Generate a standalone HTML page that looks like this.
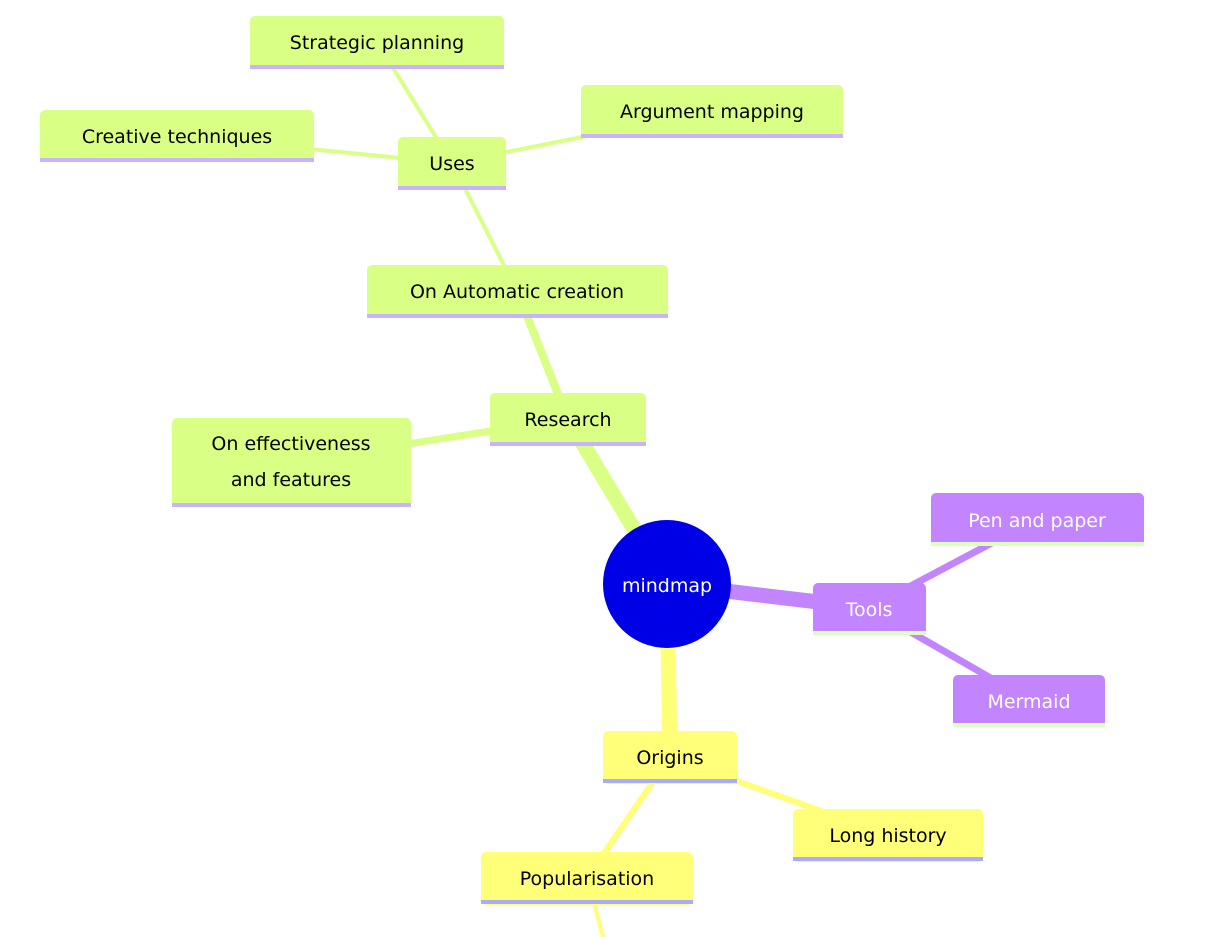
<!DOCTYPE html>
<html><head><meta charset="utf-8"><style>
html,body{margin:0;padding:0;background:#fff;width:1228px;height:937px;overflow:hidden}
text{font-family:"DejaVu Sans","Liberation Sans",sans-serif;font-size:19px}
</style></head><body>
<svg width="1228" height="937" viewBox="0 0 1228 937" xmlns="http://www.w3.org/2000/svg">
<g stroke-linecap="butt" fill="none">
<line x1="667" y1="584" x2="568" y2="419" stroke="#d9ff85" stroke-width="15"/>
<line x1="568" y1="419" x2="517" y2="291" stroke="#d9ff85" stroke-width="8"/>
<line x1="568" y1="419" x2="291" y2="462" stroke="#d9ff85" stroke-width="7"/>
<line x1="517" y1="291" x2="452" y2="163" stroke="#d9ff85" stroke-width="4"/>
<line x1="452" y1="163" x2="377" y2="42" stroke="#d9ff85" stroke-width="4"/>
<line x1="452" y1="163" x2="712" y2="111" stroke="#d9ff85" stroke-width="4"/>
<line x1="452" y1="163" x2="177" y2="136" stroke="#d9ff85" stroke-width="4"/>
<line x1="667" y1="584" x2="869" y2="608" stroke="#c385ff" stroke-width="15"/>
<line x1="869" y1="608" x2="1037" y2="519" stroke="#c385ff" stroke-width="7"/>
<line x1="869" y1="608" x2="1029" y2="700" stroke="#c385ff" stroke-width="7"/>
<line x1="667" y1="584" x2="670" y2="757" stroke="#ffff78" stroke-width="15"/>
<line x1="670" y1="757" x2="888" y2="835" stroke="#ffff78" stroke-width="6"/>
<line x1="670" y1="757" x2="587" y2="878" stroke="#ffff78" stroke-width="6"/>
<line x1="587" y1="878" x2="604" y2="940" stroke="#ffff78" stroke-width="4"/>
</g>
<g>
<rect x="250" y="16" width="254" height="53" rx="5" fill="#d9ff85"/><rect x="250" y="65" width="254" height="4" fill="#c9b3ff"/>
<text x="377" y="49" text-anchor="middle">Strategic planning</text>
<rect x="581" y="85" width="262" height="53" rx="5" fill="#d9ff85"/><rect x="581" y="134" width="262" height="4" fill="#c9b3ff"/>
<text x="712" y="118" text-anchor="middle">Argument mapping</text>
<rect x="40" y="110" width="274" height="52" rx="5" fill="#d9ff85"/><rect x="40" y="158" width="274" height="4" fill="#c9b3ff"/>
<text x="177" y="143" text-anchor="middle">Creative techniques</text>
<rect x="398" y="137" width="108" height="53" rx="5" fill="#d9ff85"/><rect x="398" y="186" width="108" height="4" fill="#c9b3ff"/>
<text x="452" y="170" text-anchor="middle">Uses</text>
<rect x="367" y="265" width="301" height="53" rx="5" fill="#d9ff85"/><rect x="367" y="314" width="301" height="4" fill="#c9b3ff"/>
<text x="517" y="298" text-anchor="middle">On Automatic creation</text>
<rect x="490" y="393" width="156" height="53" rx="5" fill="#d9ff85"/><rect x="490" y="442" width="156" height="4" fill="#c9b3ff"/>
<text x="568" y="426" text-anchor="middle">Research</text>
<rect x="172" y="418" width="239" height="89" rx="5" fill="#d9ff85"/><rect x="172" y="503" width="239" height="4" fill="#c9b3ff"/>
<text x="291" y="450" text-anchor="middle">On effectiveness</text>
<text x="291" y="486" text-anchor="middle">and features</text>
<rect x="931" y="493" width="213" height="53" rx="5" fill="#c385ff"/><rect x="931" y="542" width="213" height="4" fill="#ddffc0"/>
<text x="1037" y="527" text-anchor="middle" fill="#fff">Pen and paper</text>
<rect x="813" y="583" width="113" height="52" rx="5" fill="#c385ff"/><rect x="813" y="631" width="113" height="4" fill="#ddffc0"/>
<text x="869" y="616" text-anchor="middle" fill="#fff">Tools</text>
<rect x="953" y="675" width="152" height="52" rx="5" fill="#c385ff"/><rect x="953" y="723" width="152" height="4" fill="#ddffc0"/>
<text x="1029" y="708" text-anchor="middle" fill="#fff">Mermaid</text>
<rect x="603" y="731" width="134" height="53" rx="5" fill="#ffff78"/><rect x="603" y="779" width="134" height="4" fill="#aaaaff"/>
<text x="670" y="764" text-anchor="middle">Origins</text>
<rect x="793" y="809" width="190" height="53" rx="5" fill="#ffff78"/><rect x="793" y="857" width="190" height="4" fill="#aaaaff"/>
<text x="888" y="842" text-anchor="middle">Long history</text>
<rect x="481" y="852" width="212" height="53" rx="5" fill="#ffff78"/><rect x="481" y="900" width="212" height="4" fill="#aaaaff"/>
<text x="587" y="885" text-anchor="middle">Popularisation</text>
<circle cx="667" cy="584" r="64" fill="#0000e6"/>
<text x="667" y="592" text-anchor="middle" fill="#fff">mindmap</text>
</g>
</svg>
</body></html>
